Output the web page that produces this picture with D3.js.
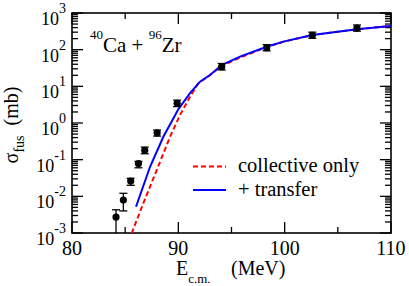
<!DOCTYPE html>
<html><head><meta charset="utf-8">
<script src="https://cdn.jsdelivr.net/npm/d3@7"></script>
<style>
@font-face { font-family: "ChartSerif"; src: local("Liberation Serif"), local("LiberationSerif-Regular"), local("Liberation Serif Regular"); }
</style>
</head><body style="margin:0">
<script>
// Experimental data
const expE   = [84.14, 84.83, 85.52, 86.25, 86.84, 88.01, 89.89, 94.08, 98.31, 102.6, 106.8];
const expSig = [0.00273, 0.0079, 0.026, 0.078, 0.18, 0.54, 3.44, 34.3, 113, 247, 390];
const expLo  = [0.0001, 0.0040, 0.020, 0.060, 0.145, 0.44, 2.8, 28, 93, 205, 320];
const expHi  = [0.0043, 0.0121, 0.031, 0.090, 0.22, 0.64, 4.2, 42, 137, 300, 470];
// Theory curves
const transE   = [86.02, 87.34, 88.59, 90.0, 91.1, 92.04, 92.98, 94.08, 95.8, 98.31, 99.87, 102.6, 106.8, 110];
const transSig = [0.0052, 0.064, 0.42, 2.37, 6.5, 13.4, 20.4, 38, 64.6, 120, 166, 251, 360, 442];
const collE    = [85.61, 86.71, 87.97, 89.22, 90.16, 91.1, 91.88, 92.98, 94.08, 95.8, 98.31, 99.87, 102.6, 106.8, 110];
const collSig  = [0.00098, 0.0065, 0.052, 0.42, 1.65, 5.2, 12.1, 20.2, 36, 61, 118, 164, 249, 360, 443];
// Axis ticks
const xMajor = [80, 90, 100, 110];
const xMinor = [85, 95, 105];
const yExp = [-3, -2, -1, 0, 1, 2, 3];
const legendLabels = ["collective only", "+ transfer"];

const FONT = "Times New Roman";
const W = 409, H = 286;
const L = 72, R = 391, T = 13, B = 233;
const svg = d3.select("body").append("svg").attr("width", W).attr("height", H);
const x = d3.scaleLinear().domain([80, 110]).range([L, R]);
const y = d3.scaleLog().domain([1e-3, 1e3]).range([B, T]);

svg.append("defs").append("clipPath").attr("id", "clip")
  .append("rect").attr("x", L).attr("y", T).attr("width", R - L).attr("height", B - T);

// minor y ticks
const yMinor = [];
yExp.slice(0, -1).forEach(e => { for (let k = 2; k <= 9; k++) yMinor.push(k * Math.pow(10, e)); });

const ax = svg.append("g").attr("stroke", "#000").attr("stroke-width", 1.3);
xMajor.forEach(v => {
  ax.append("line").attr("x1", x(v)).attr("x2", x(v)).attr("y1", B).attr("y2", B - 11);
  ax.append("line").attr("x1", x(v)).attr("x2", x(v)).attr("y1", T).attr("y2", T + 11);
});
xMinor.forEach(v => {
  ax.append("line").attr("x1", x(v)).attr("x2", x(v)).attr("y1", B).attr("y2", B - 6);
  ax.append("line").attr("x1", x(v)).attr("x2", x(v)).attr("y1", T).attr("y2", T + 6);
});
yExp.forEach(e => {
  const v = Math.pow(10, e);
  ax.append("line").attr("x1", L).attr("x2", L + 11).attr("y1", y(v)).attr("y2", y(v));
  ax.append("line").attr("x1", R).attr("x2", R - 11).attr("y1", y(v)).attr("y2", y(v));
});
yMinor.forEach(v => {
  ax.append("line").attr("x1", L).attr("x2", L + 6).attr("y1", y(v)).attr("y2", y(v));
  ax.append("line").attr("x1", R).attr("x2", R - 6).attr("y1", y(v)).attr("y2", y(v));
});
svg.append("rect").attr("x", L).attr("y", T).attr("width", R - L).attr("height", B - T)
  .attr("fill", "none").attr("stroke", "#000").attr("stroke-width", 1.6);

// tick labels
xMajor.forEach(v => {
  svg.append("text").attr("x", x(v)).attr("y", 255).attr("text-anchor", "middle")
    .attr("font-family", FONT).attr("font-size", 20).text(v);
});
yExp.forEach(e => {
  const t = svg.append("text").attr("x", 66).attr("y", y(Math.pow(10, e)) + 12)
    .attr("text-anchor", "end").attr("font-family", FONT).attr("font-size", 18);
  t.append("tspan").text("10");
  t.append("tspan").attr("dy", -12).attr("font-size", 14).text(e);
});

// axis titles
const xt = svg.append("text").attr("x", 176).attr("y", 275).attr("font-family", FONT).attr("font-size", 20);
xt.append("tspan").text("E");
xt.append("tspan").attr("dy", 8).attr("font-size", 13).text("c.m.");
xt.append("tspan").attr("x", 231).attr("dy", -8).text("(MeV)");

const yt = svg.append("text").attr("transform", "translate(18,125) rotate(-90)")
  .attr("text-anchor", "middle").attr("font-family", FONT).attr("font-size", 20);
yt.append("tspan").text("σ");
yt.append("tspan").attr("dy", 6).attr("font-size", 14).text("fus");
yt.append("tspan").attr("dy", -6).text("\u00a0\u00a0(mb)");

// reaction label
const rl = svg.append("text").attr("x", 90).attr("y", 52).attr("font-family", FONT).attr("font-size", 21);
rl.append("tspan").attr("dy", -13).attr("font-size", 13).text("40");
rl.append("tspan").attr("dy", 13).text("Ca + ");
rl.append("tspan").attr("dy", -13).attr("font-size", 13).text("96");
rl.append("tspan").attr("dy", 13).text("Zr");

// curves
const plot = svg.append("g").attr("clip-path", "url(#clip)");
const line = d3.line().x(d => x(d[0])).y(d => y(d[1]));
plot.append("path").datum(d3.zip(collE, collSig)).attr("d", line)
  .attr("fill", "none").attr("stroke", "#ff0000").attr("stroke-width", 2).attr("stroke-dasharray", "5,3");
plot.append("path").datum(d3.zip(transE, transSig)).attr("d", line)
  .attr("fill", "none").attr("stroke", "#0000ff").attr("stroke-width", 2);

// data points with error bars
const pts = expE.map((e, i) => ({e, s: expSig[i], lo: expLo[i], hi: expHi[i]}));
const eb = plot.append("g").attr("stroke", "#000").attr("stroke-width", 1.3);
pts.forEach(p => {
  eb.append("line").attr("x1", x(p.e)).attr("x2", x(p.e)).attr("y1", y(p.lo)).attr("y2", y(p.hi));
  eb.append("line").attr("x1", x(p.e) - 4).attr("x2", x(p.e) + 4).attr("y1", y(p.hi)).attr("y2", y(p.hi));
  eb.append("line").attr("x1", x(p.e) - 4).attr("x2", x(p.e) + 4).attr("y1", y(p.lo)).attr("y2", y(p.lo));
});
plot.selectAll("circle.pt").data(pts).enter().append("circle")
  .attr("cx", d => x(d.e)).attr("cy", d => y(d.s)).attr("r", 3.6).attr("fill", "#000");

// legend
svg.append("line").attr("x1", 193).attr("x2", 226).attr("y1", 166.5).attr("y2", 166.5)
  .attr("stroke", "#ff0000").attr("stroke-width", 2).attr("stroke-dasharray", "5,3");
svg.append("line").attr("x1", 193).attr("x2", 226).attr("y1", 190).attr("y2", 190)
  .attr("stroke", "#0000ff").attr("stroke-width", 2);
svg.append("text").attr("x", 238).attr("y", 172).attr("font-family", FONT).attr("font-size", 20.5).text(legendLabels[0]);
svg.append("text").attr("x", 238).attr("y", 196).attr("font-family", FONT).attr("font-size", 20.5).text(legendLabels[1]);
</script>
</body></html>
